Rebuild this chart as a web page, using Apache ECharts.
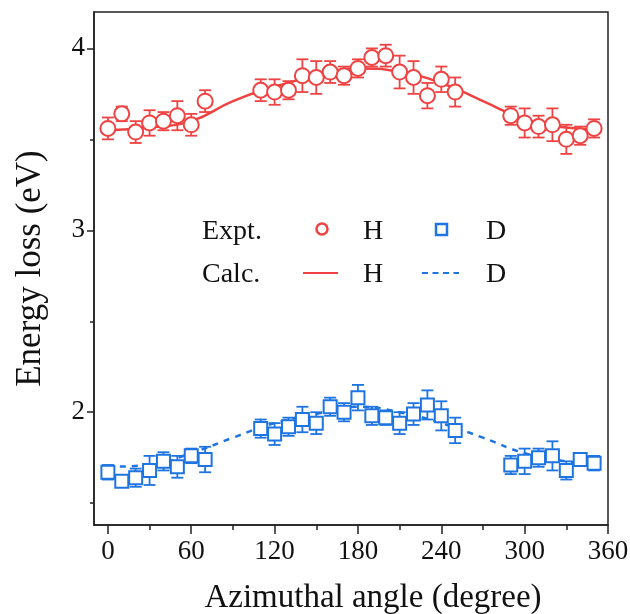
<!DOCTYPE html>
<html>
<head>
<meta charset="utf-8">
<script src="https://cdn.jsdelivr.net/npm/echarts@6/dist/echarts.min.js"></script>
<style>
  html, body { margin: 0; padding: 0; background: #fff; }
  #chart { width: 630px; height: 614px; }
</style>
</head>
<body>
<div id="chart"></div>
<script>
// measured points: [angle, energy loss, error]
var exptH = [
  [0, 3.56, 0.06], [10, 3.64, 0.04], [20, 3.54, 0.06], [30, 3.59, 0.07],
  [40, 3.60, 0.05], [50, 3.63, 0.08], [60, 3.58, 0.06], [70, 3.71, 0.06],
  [110, 3.77, 0.06], [120, 3.76, 0.07], [130, 3.77, 0.05], [140, 3.85, 0.09],
  [150, 3.84, 0.09], [160, 3.87, 0.06], [170, 3.85, 0.05], [180, 3.89, 0.05],
  [190, 3.95, 0.05], [200, 3.96, 0.06], [210, 3.87, 0.09], [220, 3.84, 0.09],
  [230, 3.74, 0.07], [240, 3.83, 0.07], [250, 3.76, 0.08],
  [290, 3.63, 0.05], [300, 3.59, 0.08], [310, 3.57, 0.06], [320, 3.58, 0.09],
  [330, 3.50, 0.08], [340, 3.52, 0.05], [350, 3.56, 0.05]
]
var exptD = [
  [0, 1.67, 0.04], [10, 1.62, 0.03], [20, 1.64, 0.05], [30, 1.68, 0.08],
  [40, 1.73, 0.05], [50, 1.70, 0.06], [60, 1.76, 0.04], [70, 1.74, 0.07],
  [110, 1.91, 0.05], [120, 1.88, 0.06], [130, 1.92, 0.05], [140, 1.96, 0.07],
  [150, 1.94, 0.06], [160, 2.03, 0.05], [170, 2.00, 0.05], [180, 2.08, 0.07],
  [190, 1.98, 0.05], [200, 1.97, 0.04], [210, 1.94, 0.06], [220, 1.99, 0.06],
  [230, 2.04, 0.08], [240, 1.98, 0.08], [250, 1.90, 0.07],
  [290, 1.71, 0.05], [300, 1.73, 0.07], [310, 1.75, 0.05], [320, 1.76, 0.08],
  [330, 1.68, 0.05], [340, 1.74, 0.03], [350, 1.72, 0.04]
]
// calculated curves
var calcH = [
  [0, 3.55], [30, 3.565], [60, 3.60], [90, 3.71], [120, 3.79], [150, 3.85],
  [180, 3.89], [210, 3.87], [240, 3.81], [270, 3.71], [300, 3.61], [330, 3.565], [350, 3.555]
]
var calcD = [
  [0, 1.70], [30, 1.71], [60, 1.775], [90, 1.86], [120, 1.94], [150, 1.99],
  [180, 2.03], [210, 2.00], [240, 1.94], [270, 1.86], [300, 1.775], [330, 1.73], [350, 1.72]
]
var xLabels = [0, 60, 120, 180, 240, 300, 360]
var xMinor = [30, 90, 150, 210, 270, 330]
var yLabels = [2, 3, 4]
var yMinor = [1.5, 2.5, 3.5]

var red = '#EF4343'
var blue = '#1E74E0'
var font = 'Liberation Serif'
var ink = '#111'

function errorBars (color) {
  return function (params, api) {
    var x = api.value(0)
    var y = api.value(1)
    var e = api.value(2)
    var top = api.coord([x, y + e])
    var bot = api.coord([x, y - e])
    var w = 6
    var style = {stroke: color, lineWidth: 1.8}
    return {
      type: 'group',
      children: [
        {type: 'line', shape: {x1: top[0], y1: top[1], x2: bot[0], y2: bot[1]}, style: style},
        {type: 'line', shape: {x1: top[0] - w, y1: top[1], x2: top[0] + w, y2: top[1]}, style: style},
        {type: 'line', shape: {x1: bot[0] - w, y1: bot[1], x2: bot[0] + w, y2: bot[1]}, style: style}
      ]
    }
  }
}

var axisColor = '#222'
var tickStyle = {color: axisColor, width: 1.5}
var chart = echarts.init(document.getElementById('chart'))
chart.setOption({
  animation: false,
  grid: {
    left: 94, right: 22, top: 12, bottom: 89, outerBoundsMode: 'none',
    show: true, borderColor: axisColor, borderWidth: 1.5
  },
  xAxis: [
    {
      type: 'value', min: -10, max: 360,
      name: 'Azimuthal angle (degree)', nameLocation: 'middle', nameGap: 57,
      nameTextStyle: {fontFamily: font, fontSize: 33, color: ink, padding: [0, 0, 0, 44]},
      axisLine: {onZero: false, lineStyle: tickStyle},
      axisTick: {customValues: xLabels, length: 9, lineStyle: tickStyle},
      axisLabel: {customValues: xLabels, fontFamily: font, fontSize: 27, color: ink, margin: 13},
      splitLine: {show: false}
    },
    {
      type: 'value', min: -10, max: 360, position: 'bottom',
      axisLine: {show: false, onZero: false},
      axisTick: {customValues: xMinor, length: 5, lineStyle: tickStyle},
      axisLabel: {show: false},
      splitLine: {show: false}
    }
  ],
  yAxis: [
    {
      type: 'value', min: 1.38, max: 4.2,
      name: 'Energy loss (eV)', nameLocation: 'middle', nameGap: 46,
      nameTextStyle: {fontFamily: font, fontSize: 35, color: ink},
      axisLine: {show: true, onZero: false, lineStyle: tickStyle},
      axisTick: {show: true, customValues: yLabels, length: 7, lineStyle: tickStyle},
      axisLabel: {customValues: yLabels, fontFamily: font, fontSize: 27, color: ink, margin: 9},
      splitLine: {show: false}
    },
    {
      type: 'value', min: 1.38, max: 4.2, position: 'left',
      axisLine: {show: false, onZero: false},
      axisTick: {show: true, customValues: yMinor, length: 4, lineStyle: tickStyle},
      axisLabel: {show: false},
      splitLine: {show: false}
    }
  ],
  series: [
    {
      type: 'line', data: calcH, smooth: true, showSymbol: false, z: 2,
      lineStyle: {color: red, width: 2.5}
    },
    {
      type: 'line', data: calcD, smooth: true, showSymbol: false, z: 2,
      lineStyle: {color: blue, width: 2.5, type: [6, 6]}
    },
    {type: 'custom', data: exptH, renderItem: errorBars(red), z: 3},
    {type: 'custom', data: exptD, renderItem: errorBars(blue), z: 3},
    {
      type: 'scatter', data: exptH, symbol: 'circle', symbolSize: 15, z: 4,
      itemStyle: {color: '#fff', borderColor: red, borderWidth: 2, opacity: 1}
    },
    {
      type: 'scatter', data: exptD, symbol: 'rect', symbolSize: 13, z: 4,
      itemStyle: {color: '#fff', borderColor: blue, borderWidth: 2, opacity: 1}
    }
  ],
  graphic: [
    {type: 'text', x: 202, y: 232, style: {text: 'Expt.', font: '28px ' + font, fill: ink, verticalAlign: 'middle'}},
    {type: 'circle', shape: {cx: 322, cy: 229, r: 5.5}, style: {fill: '#fff', stroke: red, lineWidth: 2.5}},
    {type: 'text', x: 363, y: 232, style: {text: 'H', font: '28px ' + font, fill: ink, verticalAlign: 'middle'}},
    {type: 'rect', shape: {x: 436, y: 224, width: 11, height: 11}, style: {fill: '#fff', stroke: blue, lineWidth: 2.5}},
    {type: 'text', x: 486, y: 232, style: {text: 'D', font: '28px ' + font, fill: ink, verticalAlign: 'middle'}},
    {type: 'text', x: 202, y: 275, style: {text: 'Calc.', font: '28px ' + font, fill: ink, verticalAlign: 'middle'}},
    {type: 'line', shape: {x1: 303, y1: 273, x2: 338, y2: 273}, style: {stroke: red, lineWidth: 2}},
    {type: 'text', x: 363, y: 275, style: {text: 'H', font: '28px ' + font, fill: ink, verticalAlign: 'middle'}},
    {type: 'line', shape: {x1: 422, y1: 273, x2: 459, y2: 273}, style: {stroke: blue, lineWidth: 2, lineDash: [6, 4.5]}},
    {type: 'text', x: 486, y: 275, style: {text: 'D', font: '28px ' + font, fill: ink, verticalAlign: 'middle'}}
  ]
})
</script>
</body>
</html>
